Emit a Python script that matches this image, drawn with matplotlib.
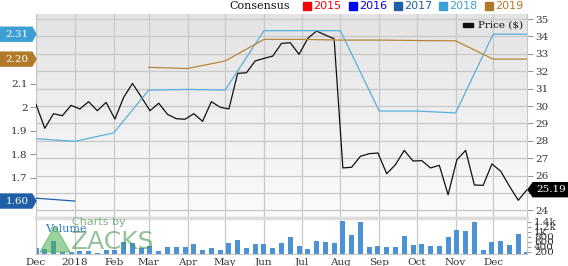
import matplotlib

matplotlib.use("Agg")
import matplotlib.pyplot as plt
import matplotlib.dates as mdates
import numpy as np
import pandas as pd
from matplotlib.patches import Polygon

# weekly closes, volume (thousands) and consensus EPS estimates
weeks = pd.date_range("2017-12-01", periods=57, freq="7D")
price = [30.10, 28.72, 29.56, 29.44, 30.04, 29.83, 30.25, 29.73, 30.21, 29.25,
         30.50, 31.30, 30.53, 29.73, 30.16, 29.52, 29.27, 29.24, 29.56, 29.12,
         30.25, 29.93, 29.83, 31.88, 31.91, 32.59, 32.74, 32.87, 33.60, 33.64,
         32.97, 33.89, 34.31, 34.08, 33.87, 26.44, 26.48, 27.11, 27.26, 27.30,
         26.11, 26.63, 27.45, 26.84, 26.86, 26.44, 26.59, 24.90, 26.91, 27.45,
         25.46, 25.44, 26.67, 26.25, 25.39, 24.58, 25.19]
volume = [350, 310, 615, 175, 175, 240, 215, 150, 255, 255,
          590, 550, 350, 415, 240, 400, 390, 390, 510, 270,
          335, 280, 535, 655, 350, 510, 495, 350, 535, 770,
          430, 320, 630, 590, 550, 1430, 870, 1375, 375, 415,
          400, 400, 815, 470, 510, 440, 440, 790, 1055, 1015,
          1400, 270, 590, 615, 470, 895, 190]

eps_dates = pd.to_datetime(["2017-12-01", "2018-01-01", "2018-02-01", "2018-03-01",
                            "2018-04-01", "2018-05-01", "2018-06-01", "2018-07-01",
                            "2018-08-01", "2018-09-01", "2018-10-01", "2018-11-01",
                            "2018-12-01", "2018-12-28"])
eps_2017 = [1.612, 1.600]
eps_2018 = [1.865, 1.854, 1.890, 2.072, 2.075, 2.072, 2.325, 2.325, 2.325,
            1.983, 1.983, 1.975, 2.31, 2.31]
eps_2019 = [2.169, 2.164, 2.196, 2.288, 2.288, 2.285, 2.285, 2.283, 2.282, 2.204, 2.204]

years = ["2015", "2016", "2017", "2018", "2019"]
year_colors = ["#ff0000", "#0000ff", "#1f5fa8", "#3d9fd3", "#b07a2a"]
month_labels = ["Dec", "2018", "Feb", "Mar", "Apr", "May", "Jun", "Jul",
                "Aug", "Sep", "Oct", "Nov", "Dec"]
price_ticks = list(range(24, 36))
price_labels = ["24", ""] + [str(v) for v in range(26, 36)]  # 25 sits under the last-price tag
vol_ticks = [200, 400, 600, 800, 1000, 1200, 1400]
vol_labels = ["200", "400", "600", "800", "1k", "1.2k", "1.4k"]

W, H = 568, 266
serif = "DejaVu Serif"
grid_c = "#c8c8c8"
tick_c = "#333333"


def fx(px):
    return px / W


def fy(py):
    return 1 - py / H


fig = plt.figure(figsize=(W / 100, H / 100), dpi=100)
fig.patch.set_facecolor("white")

ax = fig.add_axes([fx(36), fy(217), fx(491), (217 - 14) / H])
axv = fig.add_axes([fx(36), fy(254), fx(491), (254 - 218) / H], sharex=ax)
ae = ax.twinx()

x0, x1 = weeks[0], weeks[-1]

# price panel: gray gradient background
grad = np.linspace(0, 1, 256).reshape(-1, 1)
ax.imshow(grad, extent=[0, 1, 0, 1], transform=ax.transAxes, aspect="auto",
          cmap=matplotlib.colors.LinearSegmentedColormap.from_list("bg", ["#fbfbfb", "#e3e3e3"]),
          origin="lower", zorder=0)
ax.plot(weeks, price, color="#111111", lw=0.9, zorder=3)
ax.set_xlim(x0, x1)
ax.set_ylim(23.62, 35.29)
ax.yaxis.tick_right()
ax.set_yticks(price_ticks)
ax.set_yticklabels(price_labels, family=serif)
ax.tick_params(axis="y", length=4, color="#999999", labelsize=7.5, labelcolor=tick_c, pad=2)
ax.tick_params(axis="x", length=0, labelbottom=False)
ax.xaxis.set_major_locator(mdates.MonthLocator())
ax.grid(True, color=grid_c, lw=0.9)
for s in ax.spines.values():
    s.set_color(grid_c)
ax.spines["top"].set_visible(False)

# consensus lines on the left scale
ae.set_ylim(1.532, 2.396)
ae.yaxis.tick_left()
ae.set_yticks([1.7, 1.8, 1.9, 2.0, 2.1])
ae.set_yticklabels(["1.7", "1.8", "1.9", "2", "2.1"], family=serif)
ae.tick_params(axis="y", length=4, color="#999999", labelsize=7.5, labelcolor=tick_c, pad=2)
for s in ae.spines.values():
    s.set_visible(False)
ae.plot(eps_dates[:2], eps_2017, color=year_colors[2], lw=0.9)
ae.plot(eps_dates, eps_2018, color="#5ab0da", lw=0.9)
ae.plot(eps_dates[3:], eps_2019, color="#b8863b", lw=0.9)

# volume panel
axv.bar(weeks, volume, width=4, color="#4d93d4", zorder=2)
axv.set_ylim(108, 1548)
axv.yaxis.tick_right()
axv.set_yticks(vol_ticks)
axv.set_yticklabels(vol_labels, family=serif)
axv.tick_params(axis="y", length=3, color="#999999", labelsize=7.5, labelcolor=tick_c, pad=2)
axv.set_xticks(pd.date_range("2017-12-01", "2018-12-01", freq="MS"))
axv.set_xticklabels(month_labels, family=serif)
axv.tick_params(axis="x", length=0, labelsize=7.5, labelcolor=tick_c, pad=3)
axv.grid(True, axis="x", color=grid_c, lw=0.9)
axv.set_axisbelow(True)
for s in axv.spines.values():
    s.set_color(grid_c)
axv.spines["top"].set_color("#dddddd")
axv.spines["top"].set_linewidth(2.5)
axv.set_xlim(x0, x1)

# header legend
fig.text(fx(229), fy(6), "Consensus", family=serif, fontsize=8, va="center", color="#111111")
legend_x = [302.7, 348.7, 393.7, 439.3, 485]
for lx, yr, c in zip(legend_x, years, year_colors):
    fig.patches.append(plt.Rectangle((fx(lx), fy(9.5)), fx(8), 8 / H,
                                     transform=fig.transFigure, color=c))
    fig.text(fx(lx + 10), fy(6), yr, fontsize=8, color=c, va="center")

fig.patches.append(plt.Rectangle((fx(462.7), fy(27)), fx(10.5), 4.5 / H,
                                 transform=fig.transFigure, color="#111111", zorder=5))
fig.text(fx(478), fy(25), "Price ($)", family=serif, fontsize=7.5, va="center", color="#111111")

fig.canvas.draw()


def tag_left(axis, val, color, label):
    _, py = axis.transData.transform((0, val))
    py = H - py
    h = 7
    pts = [(0, py - h), (32, py - h), (36, py), (32, py + h), (0, py + h)]
    fig.patches.append(Polygon([(fx(a), fy(b)) for a, b in pts], closed=True,
                               transform=fig.transFigure, color=color, zorder=6))
    fig.text(fx(17), fy(py), label, family=serif, fontsize=7.5, color="white",
             ha="center", va="center", zorder=7)


def tag_right(axis, val, color, label):
    _, py = axis.transData.transform((0, val))
    py = H - py
    h = 7
    pts = [(528, py), (533, py - h), (568, py - h), (568, py + h), (533, py + h)]
    fig.patches.append(Polygon([(fx(a), fy(b)) for a, b in pts], closed=True,
                               transform=fig.transFigure, color=color, zorder=6))
    fig.text(fx(551), fy(py), label, family=serif, fontsize=7.5, color="white",
             ha="center", va="center", zorder=7)


tag_left(ae, eps_2018[-1], year_colors[3], f"{eps_2018[-1]:.2f}")
tag_left(ae, eps_2019[-1], year_colors[4], f"{eps_2019[-1]:.2f}")
tag_left(ae, eps_2017[-1], year_colors[2], f"{eps_2017[-1]:.2f}")
tag_right(ax, price[-1], "#000000", f"{price[-1]:.2f}")

# watermark
fig.text(fx(45), fy(229), "Volume", family=serif, fontsize=8, color="#2f7fc6", va="center")
fig.patches.append(Polygon([(fx(40), fy(252)), (fx(55), fy(226)), (fx(70), fy(252))], closed=True,
                           transform=fig.transFigure, color="#4caf50", alpha=0.55, zorder=8))
fig.text(fx(72), fy(222), "Charts by", fontsize=8, color="#5a9e5a", alpha=0.75, va="center")
fig.text(fx(71), fy(242), "ZACKS", fontsize=18, color="#3f8f4a", alpha=0.55, va="center")

fig.savefig("out.png", dpi=100)
